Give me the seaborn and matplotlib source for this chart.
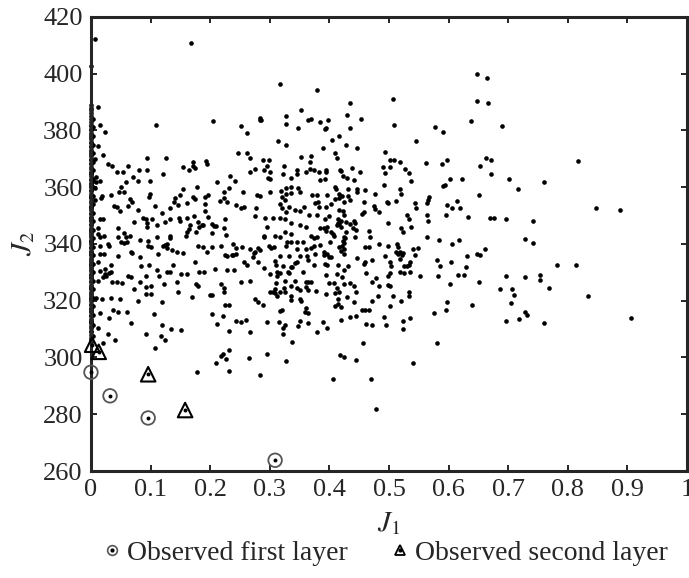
import numpy as np
import pandas as pd
import matplotlib
matplotlib.use("Agg")
import matplotlib.pyplot as plt
import seaborn as sns
from matplotlib.lines import Line2D
from matplotlib.legend_handler import HandlerTuple

# ---------------- data (J1, J2) ----------------
# points lying on / next to the J1 = 0 axis
axis_j2 = [305.5, 307, 309, 310.5, 312, 313, 314.5, 316, 317, 318.5, 320, 321, 322.5,
           324, 325, 326.5, 328, 329, 330.5, 332, 333, 334.5, 336, 337, 338.5, 340, 341,
           342.5, 344, 345, 346.5, 348, 349, 350.5, 352, 353, 354.5, 356, 357, 358.5,
           360, 361, 362.5, 364, 365, 366.5, 368, 369.5, 371, 372.5, 374, 375.5, 377,
           378.5, 380, 381.5, 383, 385, 387, 389, 402.5]
axis_j2_b = [306, 308, 309.5, 311, 312.5, 313.5, 315, 316.5, 317.5, 319, 320.5, 321.5,
             323, 324.5, 325.5, 327, 328.5, 329.5, 331, 332.5, 333.5, 335, 336.5, 337.5,
             339, 340.5, 341.5, 343, 344.5, 345.5, 347, 348.5, 349.5, 351, 352.5, 353.5,
             355, 356.5, 357.5, 359, 360.5, 361.5, 363, 364.5, 365.5, 367, 368.5, 370,
             371.5, 373, 374.5, 376, 377.5, 379, 380.5, 382, 384, 386, 388]
near_axis_j2 = [307.5, 311.5, 315, 318, 321, 324, 327, 330, 333, 336, 339, 342, 345,
                348, 351, 354, 357, 360, 363, 366, 369, 372, 375, 378, 381, 384]

pts_top_left = [
    (0.006, 412.3), (0.168, 410.6), (0.318, 396.3), (0.012, 388.1),
    (0.015, 382.0), (0.109, 382.0), (0.205, 383.4), (0.023, 379.3), (0.012, 374.4),
    (0.020, 371.4), (0.006, 370.0), (0.028, 368.0), (0.035, 367.6), (0.062, 367.3),
    (0.080, 366.1), (0.094, 370.4), (0.094, 366.1), (0.126, 370.4), (0.155, 367.0),
    (0.165, 366.1), (0.171, 368.7), (0.172, 367.5), (0.174, 366.7), (0.193, 369.3),
    (0.195, 368.0), (0.246, 372.1), (0.252, 381.6), (0.262, 378.9), (0.261, 372.1),
    (0.267, 370.1), (0.276, 366.3), (0.283, 383.8), (0.285, 383.5), (0.284, 384.2),
    (0.289, 369.4), (0.299, 369.4), (0.296, 367.4), (0.290, 366.1), (0.314, 376.2),
    (0.328, 385.0), (0.328, 382.3), (0.328, 374.8), (0.324, 367.4)]

pts_top_mid = [
    (0.648, 399.7), (0.648, 390.2), (0.638, 383.4), (0.653, 367.4), (0.379, 394.2),
    (0.507, 391.1), (0.434, 389.5), (0.353, 387.1), (0.364, 383.7), (0.370, 383.9),
    (0.384, 383.0), (0.398, 383.7), (0.429, 385.4), (0.453, 383.9), (0.434, 380.9),
    (0.395, 380.9), (0.393, 380.3), (0.347, 380.9), (0.509, 382.0), (0.578, 381.3),
    (0.591, 379.5), (0.416, 377.9), (0.404, 376.6), (0.546, 376.2), (0.389, 373.7),
    (0.428, 374.8), (0.446, 373.7), (0.409, 372.0), (0.413, 370.1), (0.494, 372.3),
    (0.352, 370.7), (0.370, 370.8), (0.367, 368.9), (0.501, 369.4), (0.509, 369.4),
    (0.519, 368.7), (0.562, 368.6), (0.597, 369.7), (0.589, 368.3), (0.490, 367.0),
    (0.501, 367.0), (0.527, 366.3), (0.438, 366.7), (0.345, 366.1), (0.367, 366.3),
    (0.374, 366.1), (0.394, 365.9), (0.418, 365.9)]

pts_top_right = [
    (0.665, 398.3), (0.667, 389.8), (0.689, 381.6), (0.663, 370.2), (0.672, 369.7),
    (0.817, 369.3)]

pts_mid_right = [
    (0.672, 364.6), (0.701, 362.8), (0.761, 361.9), (0.716, 359.4), (0.847, 352.6),
    (0.888, 352.0), (0.669, 349.2), (0.676, 349.2), (0.697, 348.6), (0.741, 348.2),
    (0.728, 341.7), (0.741, 340.3), (0.662, 338.3), (0.782, 332.6), (0.814, 332.6),
    (0.697, 328.7), (0.728, 328.4), (0.754, 329.0), (0.753, 327.3), (0.686, 324.0),
    (0.707, 324.0), (0.709, 321.9), (0.768, 324.4), (0.834, 321.5), (0.704, 319.2),
    (0.728, 316.1), (0.731, 315.1), (0.719, 313.7), (0.697, 312.7), (0.761, 312.0),
    (0.906, 314.0)]

pts_low_mid = [
    (0.347, 311.0), (0.379, 308.9), (0.396, 310.4), (0.461, 311.7), (0.495, 311.3),
    (0.523, 310.0), (0.337, 305.5), (0.456, 305.2), (0.581, 305.2), (0.418, 300.8),
    (0.424, 300.0), (0.444, 299.1), (0.541, 298.0), (0.406, 292.6), (0.470, 292.3),
    (0.479, 282.0)]

pts_low_left = [
    (0.012, 310.4), (0.135, 310.0), (0.151, 309.7), (0.093, 308.2), (0.117, 307.7),
    (0.125, 306.2), (0.028, 308.2), (0.040, 306.2), (0.020, 305.2), (0.108, 303.2),
    (0.212, 311.7), (0.231, 309.3), (0.267, 308.9), (0.323, 310.4), (0.322, 308.2),
    (0.231, 302.8), (0.221, 301.2), (0.219, 300.7), (0.226, 299.4), (0.210, 298.0),
    (0.231, 295.3), (0.178, 294.9), (0.265, 299.8), (0.295, 301.4), (0.283, 294.0),
    (0.327, 298.7)]

pts_core_left = [
    (0.044, 365.5), (0.054, 365.5), (0.121, 364.6), (0.267, 365.5), (0.301, 365.5),
    (0.322, 364.7), (0.009, 363.5), (0.009, 361.7), (0.003, 362.3), (0.016, 362.3),
    (0.058, 361.7), (0.070, 363.5), (0.079, 362.3), (0.099, 362.3), (0.212, 361.7),
    (0.233, 363.9), (0.241, 362.0), (0.297, 363.2), (0.301, 362.7), (0.006, 359.6),
    (0.050, 360.0), (0.047, 358.4), (0.055, 358.4), (0.033, 357.4), (0.019, 356.8),
    (0.017, 356.2), (0.006, 355.3), (0.099, 357.7), (0.097, 356.4), (0.065, 355.9),
    (0.069, 354.9), (0.141, 356.2), (0.149, 357.3), (0.154, 359.2), (0.178, 360.0),
    (0.171, 356.4), (0.192, 356.4), (0.197, 357.4), (0.224, 358.2), (0.223, 356.1),
    (0.232, 359.6), (0.255, 358.4), (0.279, 357.3), (0.284, 356.8), (0.301, 358.2),
    (0.319, 358.8), (0.320, 356.4), (0.326, 355.5),
    (0.039, 353.5), (0.044, 352.9), (0.049, 351.5), (0.062, 353.5), (0.079, 352.0),
    (0.107, 353.5), (0.132, 352.6), (0.139, 354.9), (0.146, 353.7), (0.162, 354.5),
    (0.174, 355.9), (0.192, 354.1), (0.192, 351.7), (0.217, 355.2), (0.228, 354.7),
    (0.244, 353.7), (0.251, 352.8), (0.257, 352.9), (0.277, 352.6), (0.317, 354.1),
    (0.320, 352.6), (0.328, 351.4),
    (0.015, 348.8), (0.020, 348.8), (0.073, 347.6), (0.087, 349.0), (0.092, 348.6),
    (0.094, 347.3), (0.094, 345.9), (0.103, 348.8), (0.111, 346.7), (0.119, 350.8),
    (0.125, 347.6), (0.132, 348.8), (0.147, 349.0), (0.149, 347.9), (0.161, 349.0),
    (0.167, 346.5), (0.173, 350.0), (0.180, 347.6), (0.182, 346.1), (0.188, 346.5),
    (0.196, 349.4), (0.203, 347.0), (0.207, 346.2), (0.210, 346.2), (0.225, 348.8),
    (0.224, 345.7), (0.276, 350.0), (0.292, 349.0), (0.305, 349.0), (0.318, 349.0),
    (0.011, 345.5), (0.012, 343.5), (0.015, 342.3), (0.022, 342.7), (0.045, 345.5),
    (0.045, 342.6), (0.056, 343.9), (0.058, 342.3), (0.065, 342.9), (0.083, 341.5),
    (0.095, 341.2), (0.111, 342.5), (0.132, 342.9), (0.133, 342.0), (0.160, 342.9),
    (0.162, 344.3), (0.165, 345.3), (0.176, 344.3), (0.186, 346.5), (0.203, 343.7),
    (0.226, 343.2), (0.296, 345.9), (0.291, 342.7), (0.290, 342.3), (0.309, 342.9),
    (0.318, 342.3)]

pts_core_left_low = [
    (0.051, 340.6), (0.055, 340.3), (0.061, 340.8), (0.028, 340.0), (0.030, 339.2),
    (0.015, 339.4), (0.016, 336.5), (0.022, 336.5), (0.068, 337.3), (0.069, 336.8),
    (0.095, 339.2), (0.100, 339.0), (0.121, 339.4), (0.125, 339.6), (0.128, 340.0),
    (0.127, 338.7), (0.145, 337.0), (0.136, 338.0), (0.155, 336.8), (0.179, 339.4),
    (0.188, 338.8), (0.194, 337.0), (0.203, 339.0), (0.219, 339.4), (0.239, 340.0),
    (0.243, 338.5), (0.253, 339.0), (0.267, 338.2), (0.273, 336.8), (0.275, 337.3),
    (0.281, 338.5), (0.284, 338.0), (0.299, 339.4), (0.302, 338.5), (0.307, 338.8),
    (0.327, 339.4),
    (0.045, 335.6), (0.011, 333.5), (0.033, 332.6), (0.082, 335.3), (0.084, 332.1),
    (0.097, 332.6), (0.113, 336.5), (0.138, 332.6), (0.174, 333.5), (0.225, 336.1),
    (0.229, 335.9), (0.236, 336.1), (0.239, 336.2), (0.243, 336.5), (0.272, 335.5),
    (0.281, 333.5), (0.256, 333.8), (0.261, 332.6), (0.309, 333.9), (0.310, 332.6),
    (0.317, 335.6), (0.323, 332.3),
    (0.016, 330.6), (0.023, 331.2), (0.026, 328.8), (0.023, 329.4), (0.030, 329.8),
    (0.033, 330.0), (0.020, 328.5), (0.062, 328.6), (0.068, 328.4), (0.093, 328.6),
    (0.111, 330.8), (0.115, 328.8), (0.127, 330.2), (0.133, 330.2), (0.151, 329.4),
    (0.161, 329.4), (0.182, 330.0), (0.189, 330.0), (0.208, 331.2), (0.229, 330.9),
    (0.240, 330.8), (0.291, 331.4), (0.300, 329.4), (0.312, 330.2), (0.312, 328.8),
    (0.318, 329.8),
    (0.035, 326.5), (0.044, 326.7), (0.052, 326.2), (0.011, 327.0), (0.083, 326.5),
    (0.073, 324.1), (0.093, 324.7), (0.100, 325.3), (0.122, 326.0), (0.145, 326.5),
    (0.176, 325.9), (0.179, 325.1), (0.218, 325.9), (0.224, 324.4), (0.252, 326.7),
    (0.267, 327.0), (0.310, 326.2), (0.300, 323.2), (0.305, 322.9), (0.308, 324.1),
    (0.309, 322.6), (0.324, 324.5),
    (0.009, 320.9), (0.019, 320.6), (0.034, 320.8), (0.049, 320.6), (0.079, 320.0),
    (0.093, 322.4), (0.100, 322.4), (0.119, 319.4), (0.146, 322.9), (0.169, 321.2),
    (0.200, 322.0), (0.203, 322.0), (0.223, 322.9), (0.225, 318.5), (0.232, 318.5),
    (0.276, 320.6), (0.281, 319.6), (0.313, 321.5), (0.318, 322.9), (0.288, 318.5),
    (0.016, 315.6), (0.037, 316.8), (0.046, 316.1), (0.061, 316.1), (0.106, 315.3),
    (0.031, 313.8), (0.068, 312.1), (0.119, 311.4), (0.203, 315.3), (0.221, 314.7),
    (0.243, 313.0), (0.251, 312.4), (0.260, 313.3), (0.296, 312.4), (0.317, 316.5),
    (0.321, 316.8), (0.316, 312.6)]

pts_core_mid = [
    (0.346, 364.7), (0.382, 365.5), (0.394, 365.5), (0.419, 365.6), (0.452, 365.3),
    (0.494, 365.0), (0.533, 365.0), (0.336, 363.2), (0.360, 365.3), (0.385, 362.6),
    (0.393, 362.9), (0.423, 363.9), (0.430, 363.3), (0.442, 362.6), (0.537, 362.0),
    (0.603, 362.9), (0.623, 362.7),
    (0.328, 359.6), (0.335, 360.0), (0.347, 359.6), (0.350, 358.4), (0.410, 360.0),
    (0.412, 359.2), (0.431, 359.4), (0.447, 359.4), (0.447, 358.4), (0.459, 359.0),
    (0.491, 360.6), (0.518, 359.4), (0.520, 357.6), (0.590, 360.3), (0.594, 360.6),
    (0.327, 357.6), (0.335, 358.0), (0.371, 357.4), (0.380, 357.4), (0.396, 357.4),
    (0.417, 357.6), (0.421, 356.8), (0.432, 357.0), (0.476, 357.6), (0.651, 357.4),
    (0.568, 356.4),
    (0.381, 354.9), (0.376, 354.5), (0.382, 352.9), (0.402, 354.1), (0.395, 352.9),
    (0.409, 355.9), (0.417, 356.1), (0.424, 354.9), (0.434, 355.5), (0.458, 354.7),
    (0.475, 353.5), (0.476, 352.3), (0.497, 354.9), (0.499, 354.5), (0.512, 355.2),
    (0.544, 354.5), (0.545, 352.7), (0.565, 355.4), (0.564, 354.5), (0.614, 355.0),
    (0.597, 353.7), (0.606, 352.7), (0.620, 352.6),
    (0.333, 352.9), (0.343, 352.1), (0.350, 351.7), (0.357, 352.9), (0.366, 350.2),
    (0.380, 350.3), (0.392, 348.8), (0.399, 349.7), (0.417, 352.1), (0.423, 351.5),
    (0.424, 350.2), (0.415, 348.8), (0.420, 348.2), (0.458, 351.2), (0.455, 350.6),
    (0.483, 351.2), (0.564, 350.2), (0.566, 348.2), (0.530, 350.2), (0.534, 348.8),
    (0.595, 350.2), (0.633, 349.6),
    (0.325, 348.8), (0.335, 347.3), (0.350, 346.5), (0.361, 345.9), (0.385, 345.5),
    (0.391, 345.5), (0.396, 346.1), (0.414, 347.4), (0.413, 346.5), (0.416, 347.0),
    (0.419, 346.1), (0.428, 347.6), (0.434, 347.0), (0.441, 347.9), (0.443, 347.4),
    (0.439, 345.5), (0.445, 345.0), (0.467, 344.7), (0.498, 347.3), (0.520, 345.5),
    (0.537, 346.1), (0.523, 344.1), (0.325, 344.1), (0.335, 343.5),
    (0.369, 342.7), (0.375, 342.1), (0.380, 342.3), (0.395, 344.5), (0.403, 344.1),
    (0.406, 343.5), (0.408, 342.9), (0.425, 342.6), (0.428, 344.1), (0.427, 342.0),
    (0.443, 342.3), (0.469, 342.6), (0.329, 340.6), (0.336, 340.6), (0.345, 340.8),
    (0.356, 340.6), (0.374, 339.4), (0.384, 339.6), (0.401, 340.6), (0.423, 341.2),
    (0.425, 340.2), (0.422, 339.4), (0.484, 340.0), (0.514, 340.0), (0.516, 339.0),
    (0.564, 342.6), (0.584, 341.5), (0.606, 340.0), (0.618, 341.4)]

pts_core_mid_low = [
    (0.459, 338.8), (0.466, 339.0), (0.499, 339.4), (0.345, 338.2), (0.360, 338.2),
    (0.370, 338.5), (0.391, 337.3), (0.396, 336.5), (0.399, 335.3), (0.403, 335.3),
    (0.417, 338.8), (0.419, 337.6), (0.425, 338.2), (0.425, 336.6), (0.512, 337.3),
    (0.515, 336.5), (0.519, 337.3), (0.524, 336.8), (0.540, 338.2), (0.549, 338.5),
    (0.544, 336.2), (0.333, 335.9), (0.351, 335.6), (0.363, 335.9), (0.376, 336.5),
    (0.391, 336.2), (0.447, 334.9), (0.494, 335.6), (0.522, 336.1), (0.581, 334.5),
    (0.631, 335.9), (0.648, 336.5), (0.653, 336.1),
    (0.342, 333.3), (0.346, 333.5), (0.335, 331.7), (0.338, 331.7), (0.331, 330.0),
    (0.364, 334.5), (0.374, 332.6), (0.392, 332.9), (0.396, 332.6), (0.414, 332.6),
    (0.431, 332.3), (0.458, 332.9), (0.460, 333.5), (0.471, 334.5), (0.501, 333.8),
    (0.504, 332.3), (0.519, 334.7), (0.526, 332.1), (0.534, 332.6), (0.530, 332.3),
    (0.536, 333.5), (0.586, 332.3), (0.604, 333.5), (0.630, 331.7),
    (0.332, 329.8), (0.355, 330.2), (0.395, 329.0), (0.413, 329.4), (0.424, 330.9),
    (0.421, 328.2), (0.461, 329.8), (0.478, 327.9), (0.501, 329.8), (0.499, 328.8),
    (0.519, 330.0), (0.526, 329.8), (0.536, 330.2), (0.552, 328.8), (0.582, 328.8),
    (0.616, 329.0), (0.626, 329.0), (0.325, 327.0), (0.343, 327.0), (0.360, 326.5),
    (0.364, 326.5), (0.370, 326.7), (0.399, 326.1), (0.408, 326.2), (0.424, 325.9),
    (0.434, 326.2), (0.442, 325.3), (0.471, 326.5), (0.484, 325.1), (0.498, 325.5),
    (0.502, 325.3), (0.603, 325.9), (0.651, 326.7),
    (0.336, 325.3), (0.345, 324.5), (0.350, 323.9), (0.360, 324.7), (0.364, 323.9),
    (0.378, 323.5), (0.413, 324.4), (0.417, 322.9), (0.409, 322.7), (0.394, 322.2),
    (0.444, 322.9), (0.481, 321.8), (0.506, 321.8), (0.533, 322.9), (0.534, 321.8),
    (0.325, 322.9), (0.335, 321.8),
    (0.335, 320.2), (0.350, 320.6), (0.353, 320.0), (0.361, 317.6), (0.414, 320.6),
    (0.415, 318.8), (0.430, 321.2), (0.441, 319.4), (0.409, 318.2), (0.420, 317.8),
    (0.459, 316.8), (0.466, 316.6), (0.471, 319.8), (0.502, 318.2), (0.520, 320.0),
    (0.597, 319.4), (0.640, 318.5), (0.596, 316.8), (0.576, 315.5), (0.359, 316.1),
    (0.364, 315.8),
    (0.350, 312.9), (0.364, 312.1), (0.389, 312.6), (0.419, 313.3), (0.434, 314.1),
    (0.445, 314.7), (0.454, 316.8), (0.491, 314.1), (0.523, 312.7), (0.535, 313.8),
    (0.472, 311.4), (0.326, 311.4)]

# observed solutions
first_layer_j1 = [0.0, 0.032, 0.096, 0.309]
first_layer_j2 = [294.8, 286.5, 278.7, 263.8]
second_layer_j1 = [0.002, 0.013, 0.096, 0.158]
second_layer_j2 = [304.5, 302.0, 294.1, 281.5]

x_ticks = [0, 0.1, 0.2, 0.3, 0.4, 0.5, 0.6, 0.7, 0.8, 0.9, 1]
x_tick_labels = ["0", "0.1", "0.2", "0.3", "0.4", "0.5", "0.6", "0.7", "0.8", "0.9", "1"]
y_ticks = [260, 280, 300, 320, 340, 360, 380, 400, 420]

# ---------------- assemble ----------------
cloud = (pts_top_left + pts_top_mid + pts_top_right + pts_mid_right + pts_low_mid +
         pts_low_left + pts_core_left + pts_core_left_low + pts_core_mid + pts_core_mid_low)
df = pd.DataFrame(cloud, columns=["J1", "J2"])
df_axis = pd.DataFrame({"J1": [0.0] * (len(axis_j2) + len(axis_j2_b)),
                        "J2": axis_j2 + axis_j2_b})
df_near = pd.DataFrame({"J1": [0.003] * len(near_axis_j2), "J2": near_axis_j2})
df_all = pd.concat([df, df_axis, df_near], ignore_index=True)
df_obs1 = pd.DataFrame({"J1": first_layer_j1, "J2": first_layer_j2})
df_obs2 = pd.DataFrame({"J1": second_layer_j1, "J2": second_layer_j2})

# ---------------- style ----------------
sns.set_style("ticks")
plt.rcParams["font.family"] = ["Liberation Serif", "DejaVu Serif"]
plt.rcParams["mathtext.fontset"] = "stix"

fig = plt.figure(figsize=(6.89, 5.78), dpi=100)
ax = fig.add_axes([0.132, 0.185, 0.865, 0.786])

sns.scatterplot(data=df_all, x="J1", y="J2", s=11, color="black", linewidth=0,
                ax=ax, legend=False, zorder=2, clip_on=False)
sns.scatterplot(data=df_obs1, x="J1", y="J2", s=8, color="black", linewidth=0,
                ax=ax, legend=False, zorder=3, clip_on=False)
sns.scatterplot(data=df_obs2, x="J1", y="J2", s=8, color="black", linewidth=0,
                ax=ax, legend=False, zorder=3, clip_on=False)
ax.scatter(df_obs1["J1"], df_obs1["J2"], s=95, marker="o", facecolors="none",
           edgecolors="#555555", linewidths=1.3, zorder=4, clip_on=False)
ax.scatter(df_obs2["J1"], df_obs2["J2"], s=110, marker="^", facecolors="none",
           edgecolors="black", linewidths=1.5, zorder=4, clip_on=False)

ax.set_xlim(0, 1)
ax.set_ylim(260, 420)
ax.set_xticks(x_ticks)
ax.set_xticklabels(x_tick_labels)
ax.set_yticks(y_ticks)
ax.tick_params(direction="in", length=4, width=1.4, labelsize=19,
               top=True, right=True, pad=6)
for sp in ax.spines.values():
    sp.set_linewidth(2.2)
    sp.set_visible(True)

ax.set_xlabel(r"$J_1$", fontsize=21, labelpad=6)
ax.set_ylabel(r"$J_2$", fontsize=21, labelpad=4)

# legend
h1 = (Line2D([], [], marker="o", ls="", ms=7, mfc="none", mec="#555555", mew=1.2),
      Line2D([], [], marker="o", ls="", ms=2, color="black"))
h2 = (Line2D([], [], marker="^", ls="", ms=7, mfc="none", mec="black", mew=1.3),
      Line2D([], [], marker="o", ls="", ms=2, color="black"))
fig.legend([h1, h2], ["Observed first layer", "Observed second layer"],
           handler_map={tuple: HandlerTuple(ndivide=1)},
           loc="center", bbox_to_anchor=(0.560, 0.043), ncol=2, frameon=False,
           fontsize=20, handlelength=0.6, handletextpad=0.25, columnspacing=1.58,
           borderpad=0.1)

fig.savefig("out.png", dpi=100)
